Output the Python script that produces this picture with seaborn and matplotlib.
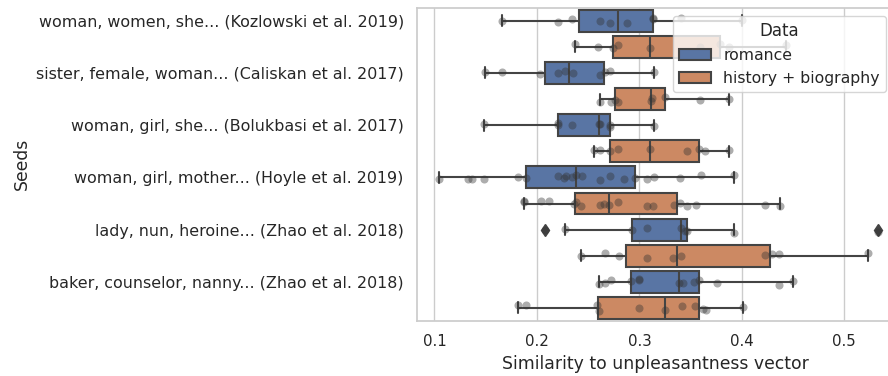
import numpy as np
import pandas as pd
import matplotlib
matplotlib.use('Agg')
import matplotlib.pyplot as plt
import seaborn as sns

seeds = ['woman, women, she... (Kozlowski et al. 2019)',
         'sister, female, woman... (Caliskan et al. 2017)',
         'woman, girl, she... (Bolukbasi et al. 2017)',
         'woman, girl, mother... (Hoyle et al. 2019)',
         'lady, nun, heroine... (Zhao et al. 2018)',
         'baker, counselor, nanny... (Zhao et al. 2018)']
genres = ['romance', 'history + biography']

# similarity scores per seed set, romance books
romance = [
    [0.166, 0.221, 0.234, 0.262, 0.271, 0.288, 0.313, 0.313, 0.341, 0.400],
    [0.149, 0.166, 0.203, 0.221, 0.227, 0.235, 0.262, 0.266, 0.271, 0.314],
    [0.148, 0.221, 0.221, 0.234, 0.261, 0.262, 0.271, 0.271, 0.314],
    [0.104, 0.133, 0.137, 0.148, 0.182, 0.189, 0.221, 0.226, 0.228, 0.234,
     0.238, 0.244, 0.262, 0.271, 0.285, 0.296, 0.307, 0.314, 0.340, 0.360,
     0.392],
    [0.208, 0.227, 0.293, 0.307, 0.341, 0.345, 0.346, 0.392, 0.533],
    [0.261, 0.266, 0.272, 0.292, 0.300, 0.300, 0.339, 0.343, 0.353, 0.358,
     0.376, 0.436, 0.450],
]
# same for history + biography books
history = [
    [0.237, 0.260, 0.274, 0.279, 0.310, 0.359, 0.379, 0.387, 0.443],
    [0.262, 0.272, 0.276, 0.279, 0.311, 0.312, 0.325, 0.359, 0.387],
    [0.256, 0.262, 0.271, 0.279, 0.310, 0.346, 0.358, 0.364, 0.387],
    [0.187, 0.187, 0.204, 0.212, 0.236, 0.238, 0.243, 0.262, 0.265, 0.270,
     0.279, 0.307, 0.313, 0.334, 0.340, 0.346, 0.355, 0.423, 0.437],
    [0.243, 0.266, 0.280, 0.307, 0.333, 0.341, 0.423, 0.429, 0.436, 0.523],
    [0.182, 0.189, 0.259, 0.261, 0.300, 0.325, 0.342, 0.354, 0.362, 0.365,
     0.401],
]

records = []
for i in range(len(seeds)):
    for g, vals in zip(genres, (romance[i], history[i])):
        for v in vals:
            records.append({'row': f'{i}-{g}', 'Data': g, 'value': v})
df = pd.DataFrame(records)
order = [f'{i}-{g}' for i in range(len(seeds)) for g in genres]

sns.set_theme(style='whitegrid')
fig, ax = plt.subplots(figsize=(8.88, 3.76), dpi=100)

line = '#444444'
sns.boxplot(data=df, x='value', y='row', hue='Data', order=order,
            hue_order=genres, dodge=False, width=0.84, linewidth=1.5,
            linecolor=line,
            flierprops=dict(marker='d', markersize=6, markerfacecolor=line,
                            markeredgecolor=line),
            ax=ax)
np.random.seed(3)
sns.stripplot(data=df, x='value', y='row', order=order, color='.2',
              alpha=0.4, size=5.8, jitter=0.12, ax=ax)

ax.set_yticks(range(0, 2 * len(seeds), 2), seeds)
ax.set_xticks([0.1, 0.2, 0.3, 0.4, 0.5])
ax.set_xlim(0.083, 0.5485)
ax.set_ylim(11.5, -0.5)
ax.set_xlabel('Similarity to unpleasantness vector', fontsize=12.4)
ax.set_ylabel('Seeds', fontsize=12.4)
ax.tick_params(axis='y', labelsize=11.4)
ax.tick_params(axis='x', labelsize=10.8)
sns.move_legend(ax, 'upper right', title='Data', fontsize=11.3,
                title_fontsize=12)

fig.subplots_adjust(left=0.4696, right=1.0068, top=0.9795, bottom=0.1463)
fig.savefig('out.png', dpi=100)
